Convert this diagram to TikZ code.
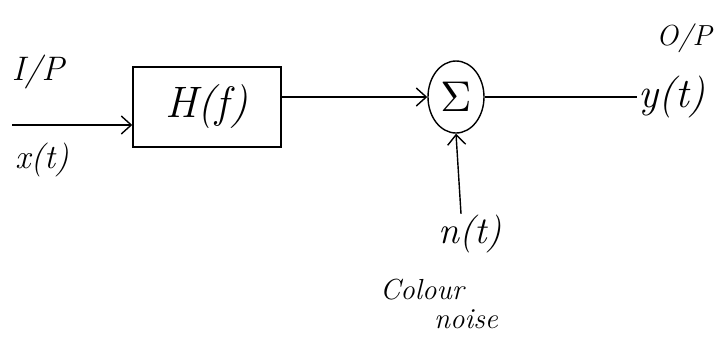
\RequirePackage{fix-cm}
\documentclass[tikz,border=0pt]{standalone}
\usetikzlibrary{arrows.meta,shapes.geometric}
\begin{document}
\begin{tikzpicture}[x=1pt,y=-1pt,
  ink/.style={line width=1.4pt,black},
  conn/.style={ink,-{Straight Barb[length=10pt,width=18pt,line width=1.4pt]}},
  blockbox/.style={ink,draw,minimum width=148pt,minimum height=80pt,inner sep=0pt,font=\fontsize{44}{48}\selectfont\itshape},
  sumnode/.style={ink,draw,ellipse,minimum width=56pt,minimum height=72pt,inner sep=0pt},
  lblhuge/.style={inner sep=1pt,font=\fontsize{42}{46}\selectfont\itshape},
  lblbig/.style={inner sep=1pt,font=\fontsize{34}{38}\selectfont\itshape},
  lblmid/.style={inner sep=1pt,font=\fontsize{29}{32}\selectfont\itshape}]
\useasboundingbox (0,0) rectangle (715,343);
\coordinate (in) at (12,125);
\node[blockbox] (H) at (207,107) {H(f)};
\node[sumnode] (S) at (456,97) {\scalebox{4.3}{$\Sigma$}};
\node[lblhuge] (y) at (672,97) {y(t)};
\node[lblmid] (op) at (684,38) {O/P};
\node[lblbig] (ip) at (38,72) {I/P};
\node[lblbig] (x) at (42,160) {x(t)};
\node[font=\fontsize{38}{42}\selectfont\itshape,inner sep=1pt] (n) at (470,234) {n(t)};
\node[lblmid] (c) at (422,290) {Colour};
\node[lblmid] (no) at (466,319) {noise};
\draw[conn] (in) -- (in -| H.west);
\draw[conn] (H.east |- S.west) -- (S.west);
\draw[ink] (S.east) -- (y.west);
\draw[conn] (n.north -| S.south) ++(5,0) -- (S.south);
\end{tikzpicture}
\end{document}
